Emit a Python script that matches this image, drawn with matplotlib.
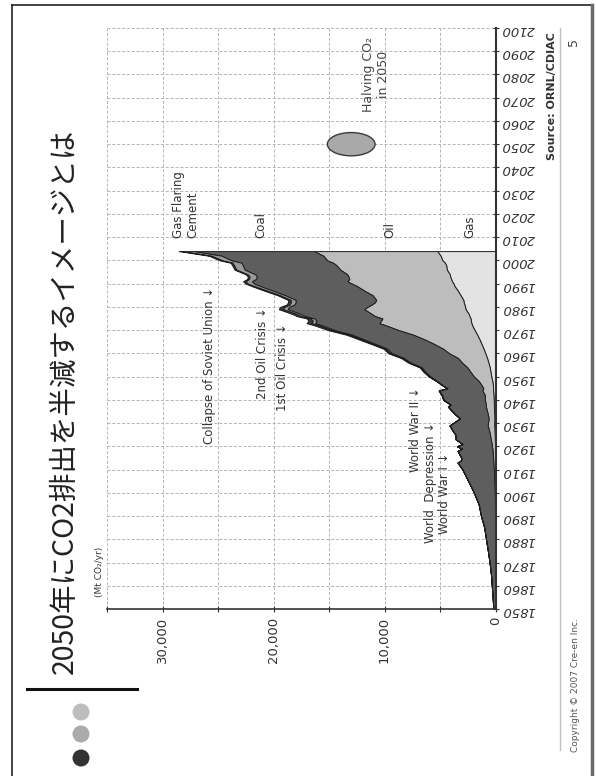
import matplotlib.pyplot as plt
from matplotlib.patches import Ellipse
from matplotlib.lines import Line2D
import numpy as np

# global fossil-fuel CO2 emissions by source, Mt CO2 per year
years = [1850, 1855, 1860, 1865, 1870, 1875, 1880, 1885, 1890, 1895,
         1900, 1905, 1910, 1913, 1914, 1915, 1918, 1919, 1920, 1921,
         1923, 1925, 1927, 1929, 1930, 1932, 1934, 1937, 1938, 1940,
         1942, 1944, 1945, 1946, 1948, 1950, 1952, 1954, 1956, 1958,
         1960, 1962, 1964, 1966, 1968, 1970, 1972, 1973, 1974, 1975,
         1976, 1977, 1979, 1980, 1981, 1982, 1983, 1985, 1987, 1989,
         1990, 1991, 1992, 1993, 1994, 1996, 1998, 1999, 2000, 2002,
         2004]
gas = [0, 0, 0, 0, 0, 0, 0, 4, 7, 7,
       11, 18, 26, 29, 29, 33, 40, 40, 44, 44,
       66, 73, 92, 117, 117, 103, 117, 147, 147, 165,
       183, 220, 220, 227, 286, 380, 450, 520, 640, 760,
       920, 1080, 1260, 1440, 1650, 1880, 2100, 2170, 2230, 2240,
       2350, 2420, 2700, 2740, 2800, 2870, 2900, 3150, 3400, 3700,
       3780, 3920, 4000, 4080, 4120, 4380, 4450, 4560, 4780, 4950,
       5250]
oil = [0, 0, 0, 0, 4, 7, 11, 18, 33, 44,
       59, 92, 132, 165, 176, 183, 220, 238, 286, 293,
       367, 422, 495, 587, 568, 513, 587, 715, 733, 788,
       770, 972, 880, 990, 1210, 1560, 1800, 2030, 2380, 2620,
       3250, 3650, 4250, 4950, 5750, 6850, 7750, 8300, 8100, 7950,
       8500, 8750, 9130, 8800, 8360, 7990, 7850, 7920, 8430, 8800,
       9170, 9420, 9170, 9170, 9240, 9600, 9900, 10080, 10380, 10560,
       11100]
coal = [198, 257, 334, 411, 532, 679, 844, 990, 1265, 1467,
        1870, 2347, 2823, 3227, 2897, 2860, 3154, 2750, 3154, 2640,
        3154, 3117, 3300, 3410, 3117, 2567, 2970, 3374, 3154, 3704,
        3850, 3887, 3227, 3447, 3740, 3924, 4070, 4107, 4620, 4877,
        5170, 5024, 5280, 5464, 5500, 5757, 5757, 5794, 5794, 6124,
        6307, 6417, 6894, 7077, 6967, 7150, 7260, 7884, 8250, 8727,
        8800, 8617, 8434, 8250, 8287, 8617, 8434, 8250, 8617, 9167,
        10817]
cement = [0, 0, 0, 0, 0, 0, 0, 0, 0, 0,
          0, 0, 0, 0, 0, 0, 0, 0, 0, 0,
          0, 0, 20, 37, 37, 30, 37, 48, 48, 55,
          55, 40, 40, 48, 55, 66, 77, 92, 110, 128,
          158, 176, 205, 227, 250, 286, 323, 345, 345, 345,
          370, 392, 433, 440, 440, 440, 455, 480, 520, 565,
          576, 590, 620, 660, 700, 750, 790, 810, 830, 920,
          1090]
flaring = [0, 0, 0, 0, 0, 0, 0, 0, 0, 0,
           0, 0, 0, 0, 0, 0, 0, 0, 0, 0,
           0, 0, 0, 0, 0, 0, 0, 0, 0, 0,
           0, 0, 0, 0, 40, 84, 92, 100, 115, 128,
           143, 165, 190, 230, 270, 319, 360, 400, 390, 340,
           360, 360, 370, 330, 260, 240, 235, 200, 250, 200,
           180, 200, 150, 150, 150, 170, 160, 170, 225, 230,
           250]

year_ticks = list(range(1850, 2101, 10))
value_ticks = [0, 5000, 10000, 15000, 20000, 25000, 30000, 35000]
value_labels = ['0', '', '10,000', '', '20,000', '', '30,000', '']

# source labels next to the end of the series
source_names = ['Gas Flaring', 'Cement', 'Coal', 'Oil', 'Gas']
source_pos = [28600, 27250, 21100, 9500, 2300]

# historical events, placed at (value, year) with the arrow on the year
events = ['Collapse of Soviet Union ↓', '2nd Oil Crisis ↓', '1st Oil Crisis ↓',
          'World War II ↓', 'World  Depression ↓', 'World War I ↓']
event_pos = [25800, 20950, 19150, 7250, 5900, 4550]
event_year = [1988.5, 1980, 1973, 1945.5, 1930.5, 1917.5]

target_value = 13000
target_year = 2050

W, H = 596, 776
fig = plt.figure(figsize=(W / 100, H / 100), dpi=100)
fig.patch.set_facecolor('white')

ax = fig.add_axes([107 / W, 1 - 609 / H, (495.5 - 107) / W, (609 - 28) / H])

# stacked areas, gas nearest the axis
y = np.array(years)
b0 = np.zeros(len(y))
b1 = b0 + np.array(gas)
b2 = b1 + np.array(oil)
b3 = b2 + np.array(coal)
b4 = b3 + np.array(cement)
b5 = b4 + np.array(flaring)
layers = [(b0, b1, '#e3e3e3'), (b1, b2, '#bdbdbd'), (b2, b3, '#5e5e5e'),
          (b3, b4, '#9a9a9a'), (b4, b5, '#3a3a3a')]
for lo, hi, col in layers:
    ax.fill_betweenx(y, lo, hi, facecolor=col, edgecolor='#1e1e1e', lw=0.7, zorder=2)

ax.add_patch(Ellipse((target_value, target_year), width=4300, height=10,
                     facecolor='#a9a9a9', edgecolor='#3a3a3a', lw=1.0, zorder=3))
ax.text(10800, 2080, 'Halving CO₂\nin 2050', rotation=90, ha='center', va='center',
        multialignment='center', fontsize=9, color='#444444')

for name, xv in zip(source_names, source_pos):
    ax.text(xv, 2009.5, name, rotation=90, rotation_mode='anchor', ha='left',
            va='center', fontsize=8.5, color='#333333')

for name, xv, yr in zip(events, event_pos, event_year):
    ax.text(xv, yr, name, rotation=90, rotation_mode='anchor', ha='right',
            va='center', fontsize=8.5, color='#333333')

ax.set_xlim(35000, 0)
ax.set_ylim(1850, 2100)
ax.set_xticks(value_ticks)
ax.set_xticklabels(value_labels)
ax.set_yticks(year_ticks)
ax.set_yticklabels([str(v) for v in year_ticks], fontstyle='italic')
ax.yaxis.tick_right()
ax.tick_params(axis='x', direction='inout', length=5, labelrotation=90,
               labelsize=9.5, pad=3, colors='#333333')
ax.tick_params(axis='y', direction='inout', length=5, labelrotation=180,
               labelsize=9.5, pad=2, colors='#333333')
ax.grid(True, linestyle=(0, (3, 2)), color='#b4b4b4', lw=0.7)
ax.set_axisbelow(True)
for side in ['left', 'top']:
    ax.spines[side].set_visible(False)
ax.spines['bottom'].set_color('#333333')
ax.spines['bottom'].set_linewidth(1.2)
ax.spines['right'].set_color('#333333')
ax.spines['right'].set_linewidth(1.5)

# slide furniture
fig.text(65 / W, 1 - 401 / H, '2050年にCO2排出を半減するイメージとは', rotation=90,
         ha='center', va='center', fontsize=20.5, color='#222222',
         family=['Noto Sans CJK JP', 'DejaVu Sans'])
fig.text(100 / W, 1 - 572 / H, '(Mt CO₂/yr)', rotation=90, ha='center', va='center',
         fontsize=6.5, color='#333333')
fig.text(552 / W, 1 - 96 / H, 'Source: ORNL/CDIAC', rotation=90, ha='center',
         va='center', fontsize=8, fontweight='bold', color='#333333')
fig.text(574 / W, 1 - 42 / H, '5', rotation=90, ha='center', va='center',
         fontsize=9, color='#444444')
fig.text(575 / W, 1 - 685 / H, 'Copyright © 2007 Cre-en Inc.', rotation=90,
         ha='center', va='center', fontsize=6.5, color='#555555')

fig.add_artist(Line2D([560 / W, 560 / W], [1 - 28 / H, 1 - 750 / H],
                      transform=fig.transFigure, color='#c0c0c0', lw=1))
fig.add_artist(Line2D([12 / W, 12 / W], [0, 1 - 5 / H],
                      transform=fig.transFigure, color='#222222', lw=1.2))
fig.add_artist(Line2D([12 / W, 592 / W], [1 - 5 / H, 1 - 5 / H],
                      transform=fig.transFigure, color='#222222', lw=1.2))
fig.add_artist(Line2D([592 / W, 592 / W], [0, 1 - 5 / H],
                      transform=fig.transFigure, color='#6a6a6a', lw=2.5))
fig.add_artist(Line2D([27 / W, 137 / W], [1 - 689 / H, 1 - 689 / H],
                      transform=fig.transFigure, color='#111111', lw=2.2))
for cy, col in zip([712, 734, 758], ['#bdbdbd', '#ababab', '#333333']):
    fig.add_artist(Ellipse((81 / W, 1 - cy / H), width=17 / W, height=17 / H,
                           transform=fig.transFigure, facecolor=col, edgecolor='none'))

fig.savefig('out.png', dpi=100)
